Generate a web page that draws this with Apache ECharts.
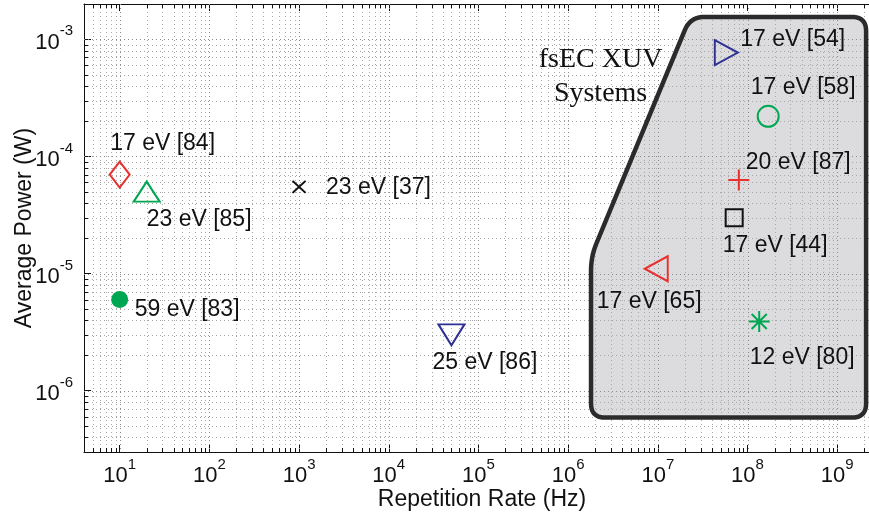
<!DOCTYPE html>
<html>
<head>
<meta charset="utf-8">
<script src="https://cdn.jsdelivr.net/npm/echarts@6/dist/echarts.min.js"></script>
<style>
  html, body { margin: 0; padding: 0; background: #ffffff; }
  #chart { width: 869px; height: 516px; }
</style>
</head>
<body>
<div id="chart"></div>
<script>
// ---------------- data ----------------
const sourceLabels = ['17 eV [84]', '23 eV [85]', '59 eV [83]', '23 eV [37]', '25 eV [86]',
                      '17 eV [54]', '17 eV [58]', '20 eV [87]', '17 eV [44]', '17 eV [65]', '12 eV [80]'];
const repRateHz = [10, 20, 10, 1000, 5e4, 5.8e7, 1.7e8, 8e7, 7.1e7, 9.6e6, 1.35e8];
const avgPowerW = [7e-5, 5e-5, 6e-6, 5.5e-5, 3e-6, 7.7e-4, 2.2e-4, 6.3e-5, 3e-5, 1.1e-5, 3.9e-6];

const xRange = [4, 3e9];
const yRange = [3e-7, 2e-3];

// fsEC XUV systems region outline (data coordinates)
const regionX = [2.3e7, 2.1e9, 2.1e9, 1.8e6, 1.8e6];
const regionY = [1.55e-3, 1.55e-3, 5.9e-7, 5.9e-7, 1.4e-5];
const regionText = 'fsEC XUV\nSystems';
const regionTextAt = [2.3e6, 4.8e-4];

const xTitle = 'Repetition Rate (Hz)';
const yTitle = 'Average Power (W)';

// ---------------- styles ----------------
const RED = '#e8312f', GREEN = '#00a651', BLUE = '#2e3192', BLACK = '#111111';
const SANS = "'Liberation Sans', Arial, Helvetica, sans-serif";
const SERIF = "'Liberation Serif', 'Times New Roman', serif";

const DIAMOND = 'path://M0,-1 L0.78,0 L0,1 L-0.78,0 Z';
const TRI_UP = 'path://M0,-1 L1,1 L-1,1 Z';
const TRI_DOWN = 'path://M-1,-1 L1,-1 L0,1 Z';
const TRI_RIGHT = 'path://M-1,-1 L1,0 L-1,1 Z';
const TRI_LEFT = 'path://M1,-1 L-1,0 L1,1 Z';
const XMARK = 'path://M-1,-1 L1,1 M-1,1 L1,-1';
const PLUS = 'path://M-1,0 L1,0 M0,-1 L0,1';
const STAR = 'path://M-1,0 L1,0 M0,-1 L0,1 M-0.72,-0.72 L0.72,0.72 M-0.72,0.72 L0.72,-0.72';

const markerStyle = [
  { symbol: DIAMOND, size: [20, 26], color: RED },
  { symbol: TRI_UP, size: [26, 20], color: GREEN },
  { symbol: 'circle', size: 17, color: GREEN, filled: true },
  { symbol: XMARK, size: [13, 12], color: BLACK },
  { symbol: TRI_DOWN, size: [26, 21], color: BLUE },
  { symbol: TRI_RIGHT, size: [23, 25], color: BLUE },
  { symbol: 'circle', size: 21, color: GREEN },
  { symbol: PLUS, size: [21, 21], color: RED },
  { symbol: 'rect', size: [17, 17], color: BLACK },
  { symbol: TRI_LEFT, size: [23, 25], color: RED },
  { symbol: STAR, size: [21, 21], color: GREEN }
];
const labelOffsets = [[-9.5, -31], [0, 28], [15, 10], [27, 1], [-19, 28], [14, -12.6],
                      [-17.5, -29], [7, -17], [-11.5, 28], [-59.5, 33], [-9.5, 36]];

// ---------------- helpers ----------------
function roundPolygon(pts, r, steps) {
  const out = [];
  const n = pts.length;
  for (let i = 0; i < n; i++) {
    const p = pts[i], a = pts[(i - 1 + n) % n], b = pts[(i + 1) % n];
    const v1 = [a[0] - p[0], a[1] - p[1]], v2 = [b[0] - p[0], b[1] - p[1]];
    const l1 = Math.hypot(v1[0], v1[1]), l2 = Math.hypot(v2[0], v2[1]);
    const rr = Math.min(r, l1 / 2, l2 / 2);
    const s = [p[0] + v1[0] / l1 * rr, p[1] + v1[1] / l1 * rr];
    const e = [p[0] + v2[0] / l2 * rr, p[1] + v2[1] / l2 * rr];
    for (let k = 0; k <= steps; k++) {
      const t = k / steps;
      out.push([
        (1 - t) * (1 - t) * s[0] + 2 * (1 - t) * t * p[0] + t * t * e[0],
        (1 - t) * (1 - t) * s[1] + 2 * (1 - t) * t * p[1] + t * t * e[1]
      ]);
    }
  }
  return out;
}

function logValues(range) {
  const vals = [];
  const e0 = Math.floor(Math.log10(range[0])), e1 = Math.ceil(Math.log10(range[1]));
  for (let e = e0; e <= e1; e++) {
    for (let m = 1; m <= 9; m++) {
      const v = m * Math.pow(10, e);
      if (v > range[0] * 1.0001 && v < range[1] * 0.9999) vals.push({ v: v, major: m === 1 });
    }
  }
  return vals;
}

function renderBackdrop(params, api) {
  if (params.dataIndex !== 0) return;
  const cs = params.coordSys;
  const L = cs.x, T = cs.y, R = cs.x + cs.width, B = cs.y + cs.height;
  const children = [];
  const pts = regionX.map((x, i) => api.coord([x, regionY[i]]));
  const rounded = roundPolygon(pts, 14, 10);
  children.push({ type: 'polygon', shape: { points: rounded }, style: { fill: '#dcdcdf' } });
  // dotted grid (major + minor)
  logValues(xRange).forEach(o => {
    const px = Math.round(api.coord([o.v, yRange[0]])[0]) + 0.5;
    children.push({ type: 'line', shape: { x1: px, y1: T, x2: px, y2: B },
      style: { stroke: o.major ? '#8a8a8a' : '#a8a8a8', lineWidth: 1, lineDash: [1, 3] } });
  });
  logValues(yRange).forEach(o => {
    const py = Math.round(api.coord([xRange[0], o.v])[1]) + 0.5;
    children.push({ type: 'line', shape: { x1: L, y1: py, x2: R, y2: py },
      style: { stroke: o.major ? '#8a8a8a' : '#a8a8a8', lineWidth: 1, lineDash: [1, 3] } });
  });
  children.push({ type: 'polygon', shape: { points: rounded },
    style: { fill: 'none', stroke: '#2b2b2b', lineWidth: 4.5, lineJoin: 'round' } });
  // minor ticks (inside)
  logValues(xRange).filter(o => !o.major).forEach(o => {
    const px = Math.round(api.coord([o.v, yRange[0]])[0]) + 0.5;
    children.push({ type: 'line', shape: { x1: px, y1: B, x2: px, y2: B - 4 }, style: { stroke: BLACK, lineWidth: 1 } });
    children.push({ type: 'line', shape: { x1: px, y1: T, x2: px, y2: T + 4 }, style: { stroke: BLACK, lineWidth: 1 } });
  });
  logValues(yRange).filter(o => !o.major).forEach(o => {
    const py = Math.round(api.coord([xRange[0], o.v])[1]) + 0.5;
    children.push({ type: 'line', shape: { x1: L, y1: py, x2: L + 4, y2: py }, style: { stroke: BLACK, lineWidth: 1 } });
  });
  const tp = api.coord(regionTextAt);
  children.push({ type: 'text', x: tp[0], y: tp[1],
    style: { text: regionText, fill: BLACK, fontSize: 28, fontFamily: SERIF,
             align: 'center', verticalAlign: 'middle', lineHeight: 34 } });
  return { type: 'group', children: children };
}

function expLabel(v) {
  const e = Math.round(Math.log10(v));
  return '{b|10}{s|' + e + '}';
}
const richTick = {
  b: { fontSize: 22, fontFamily: SANS, color: BLACK },
  s: { fontSize: 15, fontFamily: SANS, color: BLACK, padding: [0, 0, 23, 0] }
};

const points = repRateHz.map((x, i) => {
  const st = markerStyle[i];
  return {
    value: [x, avgPowerW[i]],
    name: sourceLabels[i],
    symbol: st.symbol,
    symbolSize: st.size,
    itemStyle: st.filled
      ? { color: st.color, borderWidth: 0, opacity: 1 }
      : { color: 'rgba(0,0,0,0)', borderColor: st.color, borderWidth: 2, opacity: 1 },
    label: {
      show: true, position: 'inside', align: 'left', verticalAlign: 'middle',
      offset: labelOffsets[i], formatter: sourceLabels[i], opacity: 1,
      fontSize: 23, fontFamily: SANS, color: BLACK, textBorderWidth: 0
    }
  };
});

const chart = echarts.init(document.getElementById('chart'), null, { renderer: 'canvas' });
const axisCommon = {
  type: 'log', logBase: 10,
  axisLine: { show: true, lineStyle: { color: BLACK, width: 1 } },
  axisTick: { show: true, inside: true, length: 7, lineStyle: { color: BLACK, width: 1 } },
  splitLine: { show: false },
  minorTick: { show: false },
  minorSplitLine: { show: false }
};
chart.setOption({
  animation: false,
  backgroundColor: '#ffffff',
  grid: { left: 84, top: 4, width: 796, height: 448, containLabel: false, outerBoundsMode: 'none' },
  xAxis: [
    Object.assign({}, axisCommon, {
      min: xRange[0], max: xRange[1], position: 'bottom',
      name: xTitle, nameLocation: 'middle', nameGap: 36, nameMoveOverlap: false,
      nameTextStyle: { fontSize: 23, fontFamily: SANS, color: BLACK },
      axisLabel: { show: true, margin: 5, showMinLabel: false, showMaxLabel: false,
                   formatter: expLabel, rich: richTick, fontSize: 22, fontFamily: SANS, color: BLACK }
    }),
    Object.assign({}, axisCommon, {
      min: xRange[0], max: xRange[1], position: 'top',
      axisLabel: { show: false }
    })
  ],
  yAxis: [
    Object.assign({}, axisCommon, {
      min: yRange[0], max: yRange[1], position: 'left',
      name: yTitle, nameLocation: 'middle', nameGap: 48, nameMoveOverlap: false,
      nameTextStyle: { fontSize: 23, fontFamily: SANS, color: BLACK },
      axisLabel: { show: true, margin: 11, showMinLabel: false, showMaxLabel: false,
                   padding: [7, 0, 0, 0],
                   formatter: expLabel, rich: richTick, fontSize: 22, fontFamily: SANS, color: BLACK }
    })
  ],
  series: [
    {
      type: 'custom', coordinateSystem: 'cartesian2d', xAxisIndex: 0, yAxisIndex: 0,
      renderItem: renderBackdrop, data: [[regionX[0], regionY[0]]],
      silent: true, z: 1, clip: false
    },
    {
      type: 'scatter', xAxisIndex: 0, yAxisIndex: 0, data: points,
      silent: true, z: 3, emphasis: { disabled: true }
    }
  ]
});
</script>
</body>
</html>
